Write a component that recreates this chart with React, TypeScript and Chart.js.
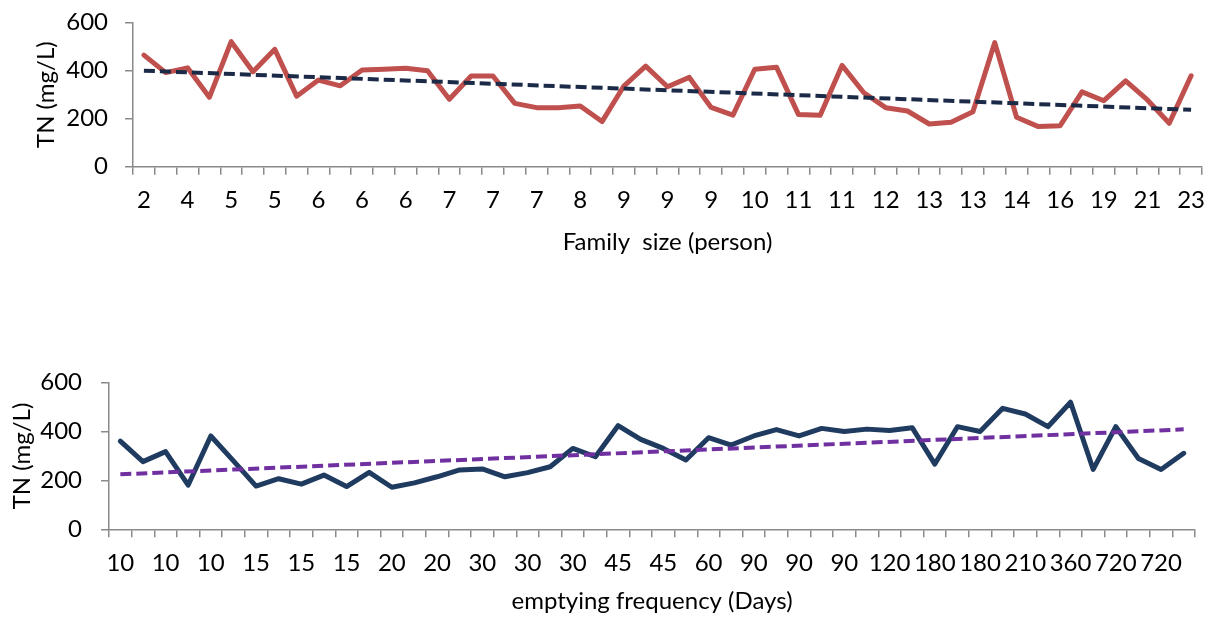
import React, { useEffect, useRef } from 'react';
import { Chart, registerables } from 'chart.js';

Chart.register(...registerables);

// ---------- Data: top panel (family size) ----------
const familyLabels = [
  '2', '3', '4', '5', '5', '5', '5', '6', '6', '6', '6', '6', '6', '7', '7', '7', '7', '7', '7', '8', '8', '8', '9', '9', '9',
  '9', '9', '10', '10', '10', '11', '11', '11', '12', '12', '12', '13', '13', '13', '13', '14', '15', '16', '18', '19', '20',
  '21', '22', '23',
];
const familyTN = [
  465, 392, 412, 289, 521, 396, 489, 294, 361, 337, 403, 406, 410, 400, 281, 378, 378, 264, 246, 246, 253, 188, 336, 419, 333,
  372, 247, 215, 406, 414, 218, 214, 422, 308, 246, 232, 178, 185, 229, 517, 206, 167, 171, 312, 275, 358, 278, 181, 379,
];
const familyTrend = [400, 237];

// ---------- Data: bottom panel (emptying frequency) ----------
const emptyLabels = [
  '10', '10', '10', '10', '10', '15', '15', '15', '15', '15', '15', '20', '20', '20', '20', '30', '30', '30', '30', '30', '30',
  '45', '45', '45', '45', '60', '60', '90', '90', '90', '90', '90', '90', '120', '120', '180', '180', '180', '180', '210',
  '210', '360', '360', '720', '720', '720', '720', '720',
];
const emptyTN = [
  361, 277, 318, 181, 382, 280, 177, 207, 185, 222, 175, 233, 172, 190, 215, 243, 247, 215, 232, 256, 331, 297, 424, 368,
  331, 284, 375, 345, 382, 408, 382, 413, 400, 410, 404, 416, 267, 420, 400, 495, 472, 420, 520, 245, 420, 290, 245, 311,
];
const emptyTrend = [225, 409];

const yTicks = [0, 200, 400, 600];

const FONT = { family: 'Lato, "Open Sans", sans-serif', size: 24 };
const GRAY = '#8a8a8a';

type Geom = {
  top: number;
  height: number;
  padTop: number;
  padRight: number;
  yWidth: number;
  yLabelPad: number;
  yTitlePad: number;
  xHeight: number;
  xLabelPad: number;
  xTitlePad: number;
};

function LineChart(props: {
  labels: string[];
  values: number[];
  trend: number[];
  lineColor: string;
  trendColor: string;
  xTitle: string;
  geom: Geom;
}) {
  const ref = useRef<HTMLCanvasElement>(null);
  const { labels, values, trend, lineColor, trendColor, xTitle, geom } = props;

  useEffect(() => {
    const n = labels.length;
    const trendData = labels.map((_, i) => (i === 0 ? trend[0] : i === n - 1 ? trend[1] : null));
    const chart = new Chart(ref.current as HTMLCanvasElement, {
      type: 'line',
      data: {
        labels,
        datasets: [
          {
            data: values,
            borderColor: lineColor,
            borderWidth: 5,
            pointRadius: 0,
            tension: 0,
            borderJoinStyle: 'round',
            borderCapStyle: 'round',
            order: 2,
          },
          {
            data: trendData,
            borderColor: trendColor,
            borderWidth: 4,
            borderDash: [11, 5],
            pointRadius: 0,
            spanGaps: true,
            tension: 0,
            order: 1,
          },
        ],
      },
      options: {
        animation: false,
        responsive: true,
        maintainAspectRatio: false,
        layout: { padding: { top: geom.padTop, right: geom.padRight, bottom: 0, left: 0 } },
        plugins: { legend: { display: false }, tooltip: { enabled: false } },
        scales: {
          x: {
            type: 'category',
            offset: true,
            grid: {
              offset: true,
              drawOnChartArea: false,
              tickLength: 8,
              color: GRAY,
              lineWidth: 1.5,
            },
            border: { color: GRAY, width: 1.5 },
            ticks: {
              autoSkip: false,
              maxRotation: 0,
              minRotation: 0,
              padding: geom.xLabelPad,
              color: '#000',
              font: FONT,
              callback: (_v: any, i: number) => (i % 2 === 0 ? labels[i] : ''),
            },
            title: {
              display: true,
              text: xTitle,
              color: '#000',
              font: FONT,
              padding: { top: 0, bottom: geom.xTitlePad },
            },
            afterFit: (s: any) => {
              s.height = geom.xHeight;
              s.paddingLeft = 0;
              s.paddingRight = 0;
            },
          },
          y: {
            min: 0,
            max: 600,
            afterBuildTicks: (s: any) => {
              s.ticks = yTicks.map((v) => ({ value: v }));
            },
            grid: {
              drawOnChartArea: false,
              tickLength: 8,
              color: GRAY,
              lineWidth: 1.5,
            },
            border: { color: GRAY, width: 1.5 },
            ticks: { padding: geom.yLabelPad, color: '#000', font: FONT },
            title: {
              display: true,
              text: 'TN (mg/L)',
              color: '#000',
              font: FONT,
              padding: { top: geom.yTitlePad, bottom: 0 },
            },
            afterFit: (s: any) => {
              s.width = geom.yWidth;
              s.paddingTop = 0;
              s.paddingBottom = 0;
            },
          },
        },
      } as any,
    });
    return () => chart.destroy();
  }, []);

  return (
    <div style={{ position: 'absolute', left: 0, top: geom.top, width: 1215, height: geom.height }}>
      <canvas ref={ref} />
    </div>
  );
}

export default function App() {
  return (
    <div style={{ position: 'absolute', left: 0, top: 0, width: 1215, height: 620, background: '#fff' }}>
      <LineChart
        labels={familyLabels}
        values={familyTN}
        trend={familyTrend}
        lineColor="#C0504D"
        trendColor="#1B2A47"
        xTitle="Family  size (person)"
        geom={{
          top: 0,
          height: 262,
          padTop: 22.7,
          padRight: 13,
          yWidth: 133,
          yLabelPad: 17,
          yTitlePad: 31.6,
          xHeight: 95.3,
          xLabelPad: 11,
          xTitlePad: 5.6,
        }}
      />
      <LineChart
        labels={emptyLabels}
        values={emptyTN}
        trend={emptyTrend}
        lineColor="#1F3B60"
        trendColor="#7030A0"
        xTitle="emptying frequency (Days)"
        geom={{
          top: 300,
          height: 320,
          padTop: 82.7,
          padRight: 20,
          yWidth: 109,
          yLabelPad: 19,
          yTitlePad: 7.6,
          xHeight: 90.7,
          xLabelPad: 12,
          xTitlePad: 4.6,
        }}
      />
    </div>
  );
}
